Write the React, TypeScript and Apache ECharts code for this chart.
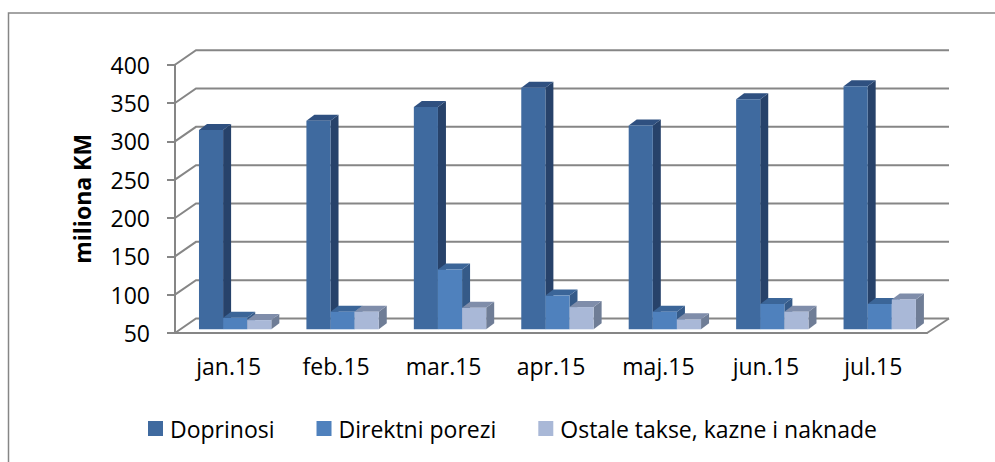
import React, { useEffect, useRef } from "react";
import * as echarts from "echarts";

const categories = ["jan.15", "feb.15", "mar.15", "apr.15", "maj.15", "jun.15", "jul.15"];
const doprinosi = [310, 322, 340, 365, 316, 350, 367];
const direktniPorezi = [65, 73, 128, 94, 73, 83, 83];
const ostaleTakse = [62, 73, 78, 79, 63, 73, 89];
const axisTicks = [50, 100, 150, 200, 250, 300, 350, 400];

const GRID_COLOR = "#868686";
const WALL_DX = 21;
const WALL_DY = -14.5;
const FONT = '"Open Sans", "Noto Sans", sans-serif';

function wallItem(params: any, api: any) {
  const cs = params.coordSys;
  const v = api.value(1);
  const y = api.coord([0, v])[1];
  const style = { stroke: GRID_COLOR, lineWidth: 2, fill: "none" };
  const children: any[] = [
    {
      type: "polyline",
      shape: {
        points: [
          [cs.x, y],
          [cs.x + WALL_DX, y + WALL_DY],
          [cs.x + cs.width + WALL_DX + 1, y + WALL_DY],
        ],
      },
      style,
    },
  ];
  if (v === axisTicks[0]) {
    children.push({
      type: "polyline",
      shape: {
        points: [
          [cs.x + cs.width, y],
          [cs.x + cs.width + WALL_DX + 1, y + WALL_DY],
        ],
      },
      style,
    });
  }
  return { type: "group", children };
}

function barRenderer(slot: number, front: string, top: string, side: string) {
  return (_params: any, api: any) => {
    const idx = api.value(0);
    const p = api.coord([idx, api.value(1)]);
    const base = api.coord([idx, axisTicks[0]]);
    const band = api.size([1, 0])[0];
    const w = band * 0.2245;
    const x = p[0] + band * 0.06 + (slot - 1.5) * w;
    const yTop = p[1] - 3.7;
    const yBase = base[1] - 3.7;
    const dx = 8;
    const dy = -6;
    return {
      type: "group",
      children: [
        {
          type: "polygon",
          shape: { points: [[x + w, yTop], [x + w + dx, yTop + dy], [x + w + dx, yBase + dy], [x + w, yBase]] },
          style: { fill: side },
        },
        {
          type: "polygon",
          shape: { points: [[x, yTop], [x + dx, yTop + dy], [x + w + dx, yTop + dy], [x + w, yTop]] },
          style: { fill: top },
        },
        { type: "rect", shape: { x, y: yTop, width: w, height: yBase - yTop }, style: { fill: front } },
      ],
    };
  };
}

function toPairs(values: number[]) {
  return values.map((v, i) => [i, v]);
}

export default function App() {
  const ref = useRef<HTMLDivElement>(null);
  useEffect(() => {
    document.body.style.margin = "0";
    const chart = echarts.init(ref.current!, null, { renderer: "svg" });
    chart.setOption({
      animation: false,
      backgroundColor: "#ffffff",
      graphic: [
        {
          type: "rect",
          silent: true,
          shape: { x: 8.5, y: 13, width: 1200, height: 800 },
          style: { fill: "none", stroke: GRID_COLOR, lineWidth: 1.5 },
        },
      ],
      grid: { left: 175, top: 64.7, width: 752, height: 268.3 },
      legend: {
        left: 148,
        top: 417,
        padding: 0,
        icon: "rect",
        itemWidth: 15,
        itemHeight: 15,
        itemGap: 42,
        data: ["Doprinosi", "Direktni porezi", "Ostale takse, kazne i naknade"],
        textStyle: { fontFamily: FONT, fontSize: 23, color: "#000000", padding: [0, 0, 0, 2] },
      },
      xAxis: {
        type: "category",
        data: categories,
        boundaryGap: true,
        axisLine: { lineStyle: { color: GRID_COLOR, width: 2 } },
        axisTick: { length: 8, alignWithLabel: false, lineStyle: { color: GRID_COLOR, width: 2 } },
        axisLabel: { fontFamily: FONT, fontSize: 23, color: "#000000", margin: 21 },
        splitLine: { show: false },
      },
      yAxis: {
        type: "value",
        min: 50,
        max: 400,
        interval: 50,
        name: "miliona KM",
        nameLocation: "middle",
        nameGap: 82,
        nameTextStyle: { fontFamily: FONT, fontSize: 23, fontWeight: "bold", color: "#000000" },
        axisLine: { show: true, lineStyle: { color: GRID_COLOR, width: 2 } },
        axisTick: { show: true, length: 8, lineStyle: { color: GRID_COLOR, width: 2 } },
        axisLabel: { fontFamily: FONT, fontSize: 23, color: "#000000", margin: 25 },
        splitLine: { show: false },
      },
      series: [
        {
          type: "custom",
          name: "wall",
          silent: true,
          clip: false,
          z: 1,
          data: axisTicks.map((v) => [0, v]),
          encode: { x: 0, y: 1 },
          renderItem: wallItem,
        },
        {
          type: "custom",
          name: "Doprinosi",
          clip: false,
          z: 2,
          itemStyle: { color: "#3F6A9F" },
          data: toPairs(doprinosi),
          encode: { x: 0, y: 1 },
          renderItem: barRenderer(0, "#3F6A9F", "#2F5080", "#27426A"),
        },
        {
          type: "custom",
          name: "Direktni porezi",
          clip: false,
          z: 3,
          itemStyle: { color: "#4F81BD" },
          data: toPairs(direktniPorezi),
          encode: { x: 0, y: 1 },
          renderItem: barRenderer(1, "#4F81BD", "#3B6598", "#355A88"),
        },
        {
          type: "custom",
          name: "Ostale takse, kazne i naknade",
          clip: false,
          z: 4,
          itemStyle: { color: "#A9B8D7" },
          data: toPairs(ostaleTakse),
          encode: { x: 0, y: 1 },
          renderItem: barRenderer(2, "#A9B8D7", "#7F8DAA", "#6F7D96"),
        },
      ],
    });
    return () => chart.dispose();
  }, []);
  return <div ref={ref} style={{ position: "absolute", left: 0, top: 0, width: 995, height: 462 }} />;
}
